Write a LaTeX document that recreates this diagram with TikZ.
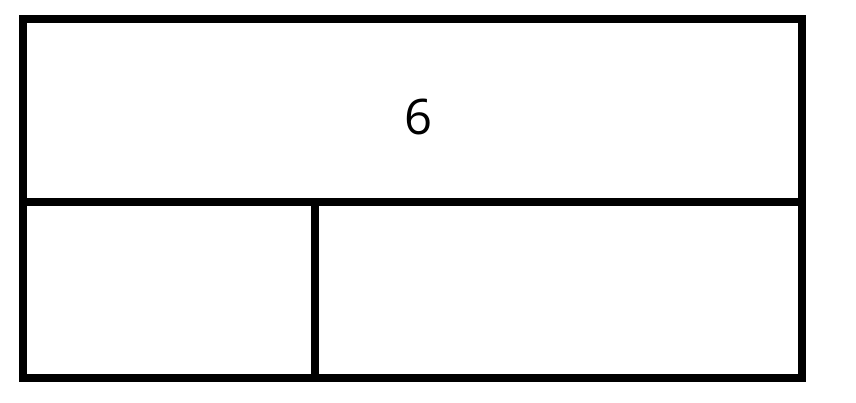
\documentclass[tikz,border=0pt]{standalone}
\usepackage{fontspec}
\setmainfont{Open Sans}
\begin{document}
\begin{tikzpicture}[
			x=1pt, y=-1pt,
			cell/.style={draw, rectangle, line width=8pt, outer sep=0pt, inner sep=0pt}
		]
		\useasboundingbox (0,0) rectangle (856,403);
		\node[cell, minimum width=779pt, minimum height=183pt] (top) at (412.5,110.5) {};
		\node[cell, minimum width=292pt, minimum height=176pt] (left) at (169,290) {};
		\node[cell, minimum width=487pt, minimum height=176pt] (right) at (558.5,290) {};
		\node[font=\fontsize{49}{49}\selectfont, inner sep=0pt] (six) at (419,117.5) {6};
	\end{tikzpicture}
\end{document}
